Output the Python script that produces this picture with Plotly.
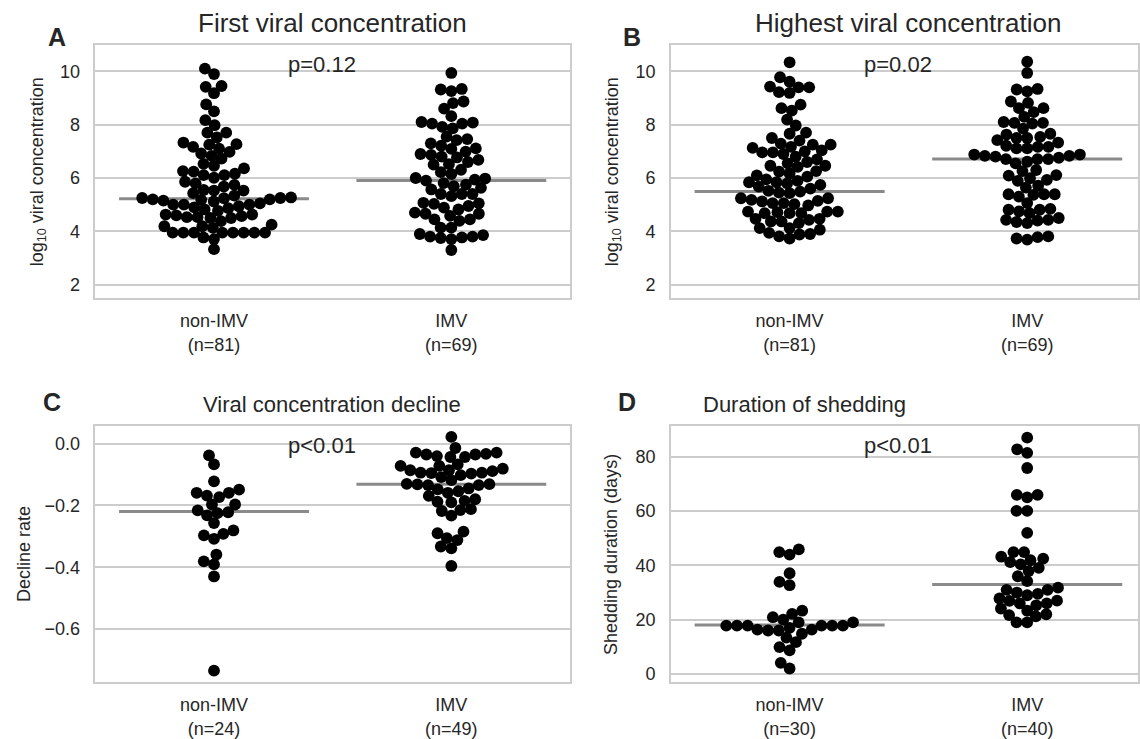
import numpy as np
import plotly.graph_objects as go

# ---------------- data ----------------
categories = ["non-IMV", "IMV"]

counts_top = ["(n=81)", "(n=69)"]
counts_c = ["(n=24)", "(n=49)"]
counts_d = ["(n=30)", "(n=40)"]

a_nonimv = [10.1, 9.9, 9.45, 9.42, 9.18, 8.76, 8.5, 8.17, 7.98, 7.7, 7.7, 7.52,
            7.33, 7.17, 7.1, 7.27, 7.25, 6.98, 6.92, 6.83, 6.73, 6.53, 6.46, 6.36,
            6.16, 6.11, 6.01, 6.11, 6.24, 6.26, 5.8, 5.74, 5.86, 5.68, 5.53, 5.53,
            5.43, 5.34, 5.2, 5.18, 5.15, 5.25, 5.25, 5.2, 5.27, 5.12, 5.24, 4.87,
            4.77, 4.94, 4.9, 5.0, 5.0, 5.0, 4.82, 4.53, 4.5, 4.38, 4.53, 4.63, 4.57,
            4.63, 4.5, 4.6, 4.19, 4.25, 4.13, 4.19, 3.95, 3.95, 3.95, 3.95, 3.95,
            3.95, 3.95, 3.95, 5.05, 5.55, 3.33, 3.77, 3.71]
a_imv = [9.94, 9.32, 9.26, 9.34, 8.81, 8.87, 8.6, 8.32, 8.08, 7.92, 7.86, 8.04,
         8.04, 8.1, 7.42, 7.46, 7.55, 7.3, 7.21, 6.87, 6.99, 7.11, 7.09, 6.77,
         6.9, 6.68, 6.8, 6.52, 6.5, 6.31, 6.22, 6.15, 5.98, 5.94, 5.81, 6.0, 5.9,
         5.75, 5.63, 5.69, 5.4, 5.32, 5.4, 5.4, 5.57, 5.05, 4.89, 4.82, 4.95,
         5.03, 5.07, 4.66, 4.58, 4.39, 4.45, 4.45, 4.66, 4.7, 4.14, 4.14, 3.9,
         3.8, 3.75, 3.71, 3.77, 3.8, 3.86, 3.3, 6.6]
b_nonimv = [10.34, 9.78, 9.61, 9.4, 9.4, 9.43, 9.22, 9.19, 8.75, 8.62, 8.53, 8.19,
            7.97, 7.66, 7.5, 7.7, 7.25, 7.04, 7.25, 7.13, 7.29, 7.17, 6.96, 6.96,
            6.8, 6.55, 6.42, 6.46, 6.46, 6.26, 6.24, 6.17, 6.05, 5.89, 5.84, 5.74,
            5.8, 5.84, 5.68, 5.52, 5.43, 5.49, 5.02, 5.24, 4.97, 5.18, 5.14, 5.06,
            5.24, 5.12, 5.06, 4.68, 4.74, 4.68, 4.74, 4.68, 4.72, 4.74, 4.47, 4.31,
            4.43, 4.37, 4.47, 4.37, 3.9, 4.12, 4.06, 4.12, 3.94, 3.81, 3.73, 3.88,
            5.45, 6.9, 6.1, 5.6, 6.7, 6.6, 7.0, 5.95, 7.4]
b_imv = [10.36, 9.94, 9.32, 9.25, 9.34, 8.82, 8.62, 8.62, 8.87, 8.47, 8.29, 8.1,
         8.04, 8.07, 8.07, 7.85, 7.66, 7.54, 7.42, 7.5, 7.5, 7.63, 7.33, 7.17,
         7.11, 7.21, 7.11, 7.17, 6.88, 6.83, 6.88, 6.83, 6.76, 6.71, 6.71, 6.61,
         6.55, 6.71, 6.8, 6.3, 6.26, 6.09, 5.99, 6.11, 5.93, 5.89, 5.71, 5.64,
         5.39, 5.39, 5.3, 5.37, 5.39, 5.06, 4.81, 4.81, 4.68, 4.75, 4.84, 4.5,
         4.43, 4.35, 4.31, 4.4, 4.43, 3.81, 3.73, 3.69, 3.78]
c_nonimv = [-0.038, -0.067, -0.122, -0.159, -0.173, -0.168, -0.159, -0.149,
            -0.197, -0.197, -0.216, -0.232, -0.225, -0.222, -0.257, -0.297,
            -0.308, -0.292, -0.281, -0.359, -0.381, -0.391, -0.43, -0.735]
c_imv = [0.022, -0.014, -0.029, -0.033, -0.035, -0.043, -0.043, -0.04, -0.035,
         -0.029, -0.081, -0.089, -0.094, -0.095, -0.072, -0.086, -0.072, -0.067,
         -0.094, -0.086, -0.102, -0.118, -0.108, -0.097, -0.131, -0.132, -0.134,
         -0.134, -0.13, -0.148, -0.159, -0.154, -0.145, -0.169, -0.188, -0.19,
         -0.185, -0.18, -0.218, -0.233, -0.215, -0.212, -0.29, -0.306, -0.312,
         -0.285, -0.333, -0.339, -0.396]
d_nonimv = [44.9, 44.0, 45.9, 37.1, 33.9, 32.7, 23.3, 22.1, 20.9, 20.0, 19.0, 19.0,
            17.8, 17.8, 17.0, 16.0, 16.3, 16.3, 14.8, 16.0, 17.8, 17.8, 17.8, 17.8,
            13.4, 11.7, 9.9, 8.7, 4.1, 2.0]
d_imv = [87.1, 82.8, 81.5, 75.9, 66.0, 65.1, 66.0, 60.1, 60.1, 52.0, 44.9, 44.9,
         43.2, 41.2, 40.4, 41.9, 39.1, 36.0, 37.9, 31.8, 31.0, 31.0, 34.2, 30.0,
         26.0, 26.0, 27.8, 26.9, 25.3, 21.2, 19.0, 19.0, 24.1, 23.3, 21.7, 42.5,
         29.5, 29.0, 27.0, 22.0]

medians_a = [5.22, 5.91]
medians_b = [5.49, 6.71]
medians_c = [-0.22, -0.131]
medians_d = [18.0, 33.0]

titles = ["First viral concentration", "Highest viral concentration",
          "Viral concentration decline", "Duration of shedding"]
letters = ["A", "B", "C", "D"]
p_texts = ["p=0.12", "p=0.02", "p<0.01", "p<0.01"]
ylabels = ["log<sub>10</sub> viral concentration", "log<sub>10</sub> viral concentration",
           "Decline rate", "Shedding duration (days)"]

ticks_ab = [2, 4, 6, 8, 10]
ticks_c = [0.0, -0.2, -0.4, -0.6]
ticks_c_text = ["0.0", "\u22120.2", "\u22120.4", "\u22120.6"]
ticks_d = [0, 20, 40, 60, 80]

# ---------------- layout geometry (pixels) ----------------
W, H = 1140, 739
TEXT = "#262626"
GRID = "#cccccc"
FONT = "Liberation Sans, Arial, sans-serif"

panels = [
    dict(x0=95.5, x1=571, y0=45, y1=300, yr=[1.5, 11.0], xr=[-0.5, 1.5]),
    dict(x0=672, x1=1140, y0=45, y1=300, yr=[1.5, 11.0], xr=[-0.5, -0.5 + 468 / 238]),
    dict(x0=95.5, x1=571, y0=429, y1=686.7, yr=[-0.772, 0.057], xr=[-0.5, 1.5]),
    dict(x0=672, x1=1140, y0=429, y1=686.7, yr=[-3.0, 91.35], xr=[-0.5, -0.5 + 468 / 238]),
]
groups = [(a_nonimv, a_imv), (b_nonimv, b_imv), (c_nonimv, c_imv), (d_nonimv, d_imv)]
medians = [medians_a, medians_b, medians_c, medians_d]
counts = [counts_top, counts_top, counts_c, counts_d]
title_cx = [333, 910, 333, 806]
title_size = [26, 26, 22, 22]

DOT = 11.8      # marker diameter (px)
RAD = 5.1       # swarm radius (px)


def swarm_offsets(values, ppu):
    """Seaborn-like beeswarm offsets (px) for values, given pixels per unit."""
    vals = np.asarray(values, dtype=float)
    order = np.argsort(vals, kind="mergesort")
    ys = vals[order] * ppu
    swarm = [(0.0, ys[0])]
    for y in ys[1:]:
        neighbors = []
        for xj, yj in reversed(swarm):
            if (y - yj) < 2 * RAD:
                neighbors.append((xj, yj))
            else:
                break
        cands = [0.0]
        left_first = True
        for xj, yj in neighbors:
            dy = y - yj
            dx = np.sqrt(max((2 * RAD) ** 2 - dy ** 2, 0)) * 1.05
            pair = [xj - dx, xj + dx] if left_first else [xj + dx, xj - dx]
            cands.extend(pair)
            left_first = not left_first
        cands = np.array(cands)
        cands = cands[np.argsort(np.abs(cands), kind="mergesort")]
        chosen = cands[0]
        for c in cands:
            if all((c - xj) ** 2 + (y - yj) ** 2 >= (2 * RAD) ** 2 for xj, yj in neighbors):
                chosen = c
                break
        swarm.append((chosen, y))
    out = np.empty(len(vals))
    out[order] = [s[0] for s in swarm]
    return out


fig = go.Figure()
annotations = []

for k, p in enumerate(panels):
    ax = "" if k == 0 else str(k + 1)
    xa, ya = "x" + ax, "y" + ax
    ppu_y = (p["y1"] - p["y0"]) / (p["yr"][1] - p["yr"][0])
    ppu_x = (p["x1"] - p["x0"]) / (p["xr"][1] - p["xr"][0])

    # median lines (behind the dots)
    for ci, m in enumerate(medians[k]):
        fig.add_trace(go.Scatter(x=[ci - 0.4, ci + 0.4], y=[m, m], mode="lines",
                                 line=dict(color="#8a8a8a", width=3),
                                 xaxis=xa, yaxis=ya, showlegend=False, hoverinfo="skip"))
    for ci, vals in enumerate(groups[k]):
        offs = swarm_offsets(vals, ppu_y) / ppu_x
        fig.add_trace(go.Scatter(x=ci + offs, y=vals, mode="markers",
                                 marker=dict(color="black", size=DOT, line=dict(width=0)),
                                 xaxis=xa, yaxis=ya, showlegend=False))

    xdom = [p["x0"] / W, p["x1"] / W]
    ydom = [1 - p["y1"] / H, 1 - p["y0"] / H]
    if k in (0, 1):
        yt, ytt = ticks_ab, [str(t) for t in ticks_ab]
    elif k == 2:
        yt, ytt = ticks_c, ticks_c_text
    else:
        yt, ytt = ticks_d, [str(t) for t in ticks_d]

    fig.layout["xaxis" + ax] = dict(
        domain=xdom, range=p["xr"], anchor=ya, tickvals=[0, 1],
        ticktext=[f"{c}<br>{n}" for c, n in zip(categories, counts[k])],
        showgrid=False, zeroline=False, showline=True, mirror=True,
        linecolor=GRID, linewidth=1.5, ticks="", ticklabelstandoff=6,
        tickfont=dict(size=18, color=TEXT, family=FONT))
    fig.layout["yaxis" + ax] = dict(
        domain=ydom, range=p["yr"], anchor=xa, tickvals=yt, ticktext=ytt,
        showgrid=True, gridcolor=GRID, gridwidth=1.5, zeroline=False,
        showline=True, mirror=True, linecolor=GRID, linewidth=1.5, ticks="",
        ticklabelstandoff=10,
        tickfont=dict(size=18, color=TEXT, family=FONT))

    dx = p["x0"] - 95.5
    # title
    annotations.append(dict(text=titles[k], x=title_cx[k] / W,
                            y=1 - (p["y0"] - 22) / H, xref="paper", yref="paper",
                            xanchor="center", yanchor="middle", showarrow=False,
                            font=dict(size=title_size[k], color=TEXT, family=FONT)))
    # panel letter
    ly = 37 if k < 2 else 405
    lx = 57 if k in (0, 1) else 52
    annotations.append(dict(text="<b>" + letters[k] + "</b>", x=(lx + dx) / W,
                            y=1 - ly / H, xref="paper", yref="paper",
                            xanchor="center", yanchor="middle", showarrow=False,
                            font=dict(size=25, color=TEXT, family=FONT)))
    # p value
    annotations.append(dict(text=p_texts[k], x=(323 + dx) / W,
                            y=1 - (p["y0"] + 20) / H, xref="paper", yref="paper",
                            xanchor="center", yanchor="middle", showarrow=False,
                            font=dict(size=22, color=TEXT, family=FONT)))
    # y label
    ylx = {0: 38, 1: 614, 2: 24, 3: 612}[k]
    annotations.append(dict(text=ylabels[k], x=ylx / W,
                            y=1 - ((p["y0"] + p["y1"]) / 2) / H, xref="paper", yref="paper",
                            xanchor="center", yanchor="middle", textangle=-90,
                            showarrow=False, font=dict(size=18, color=TEXT, family=FONT)))

fig.update_layout(width=W, height=H, margin=dict(l=0, r=0, t=0, b=0),
                  paper_bgcolor="white", plot_bgcolor="white",
                  annotations=annotations, showlegend=False,
                  font=dict(family=FONT, color=TEXT))

fig.write_html("out.html", config={"displayModeBar": False},
               post_script="document.body.style.margin='0';")
